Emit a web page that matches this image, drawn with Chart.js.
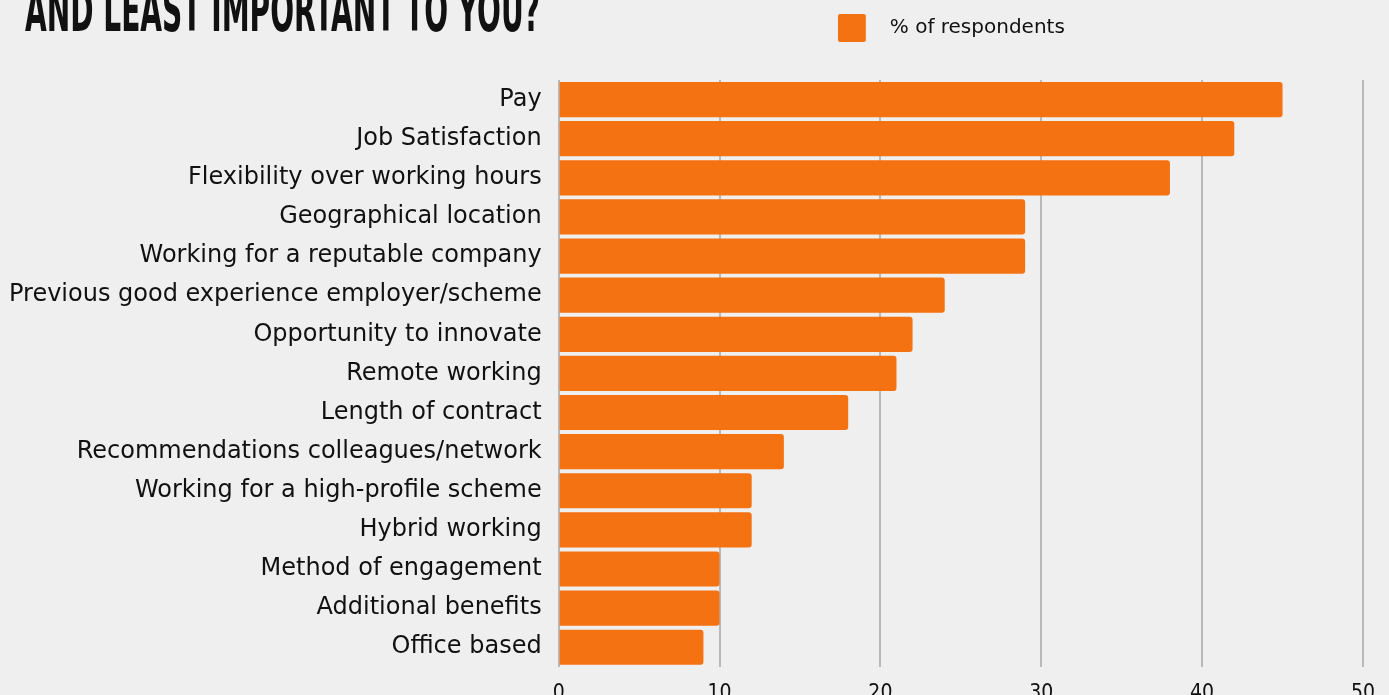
<!DOCTYPE html>
<html>
<head>
<meta charset="utf-8">
<script src="https://cdn.jsdelivr.net/npm/chart.js@4.4.1/dist/chart.umd.min.js"></script>
<style>
  html, body { margin: 0; padding: 0; background: #efefef; overflow: hidden; }
  #wrap { position: relative; width: 1389px; height: 720px; }
  #title {
    position: absolute; left: 25px; top: -18px;
    font-family: "DejaVu Sans Condensed", sans-serif;
    font-weight: bold; font-size: 58px; line-height: 58px; color: #111;
    white-space: nowrap; transform-origin: 0 0;
  }
  canvas { position: absolute; left: 0; top: 0; }
</style>
</head>
<body>
<div id="wrap">
  <canvas id="chart" width="1389" height="720"></canvas>
  <div id="title">AND LEAST IMPORTANT TO YOU?</div>
</div>
<script>
// dữ liệu biểu đồ
const factors = [
  "Pay",
  "Job Satisfaction",
  "Flexibility over working hours",
  "Geographical location",
  "Working for a reputable company",
  "Previous good experience employer/scheme",
  "Opportunity to innovate",
  "Remote working",
  "Length of contract",
  "Recommendations colleagues/network",
  "Working for a high-profile scheme",
  "Hybrid working",
  "Method of engagement",
  "Additional benefits",
  "Office based"
];
const respondents = [45, 42, 38, 29, 29, 24, 22, 21, 18, 14, 12, 12, 10, 10, 9];
const seriesName = "% of respondents";
const xTicks = [0, 10, 20, 30, 40, 50];

// tiêu đề: kéo cho hẹp lại giống font condensed
const title = document.getElementById("title");
const w = title.getBoundingClientRect().width;
title.style.transform = "scale(" + (515 / w) + ", 1)";

const orange = "#f47211";

// ô màu của legend (vẽ bên trái, phần còn lại trong suốt để có khoảng cách với chữ)
const legendImg = document.createElement("canvas");
legendImg.width = 61;
legendImg.height = 28;
const lctx = legendImg.getContext("2d");
lctx.fillStyle = orange;
lctx.beginPath();
lctx.roundRect(0, 0, 28, 28, 2);
lctx.fill();

// thêm khoảng trống dưới legend
const legendGap = {
  id: "legendGap",
  beforeInit(chart) {
    const fit = chart.legend.fit;
    chart.legend.fit = function () {
      fit.bind(chart.legend)();
      this.height += 32;
    };
  }
};

const ctx = document.getElementById("chart").getContext("2d");
new Chart(ctx, {
  type: "bar",
  data: {
    labels: factors,
    datasets: [
      {
        label: seriesName,
        data: respondents,
        backgroundColor: orange,
        borderWidth: 0,
        borderRadius: { topLeft: 0, bottomLeft: 0, topRight: 3, bottomRight: 3 },
        borderSkipped: false,
        barPercentage: 0.9,
        categoryPercentage: 1
      }
    ]
  },
  plugins: [legendGap],
  options: {
    indexAxis: "y",
    responsive: false,
    animation: false,
    layout: { padding: { top: 8, right: 19, left: 0, bottom: 0 } },
    plugins: {
      legend: {
        display: true,
        position: "top",
        fullSize: false,
        labels: {
          usePointStyle: true,
          pointStyle: legendImg,
          pointStyleWidth: 23,
          boxHeight: 28,
          padding: 10,
          color: "#111",
          font: { family: "DejaVu Sans", size: 20 }
        }
      },
      tooltip: { enabled: false }
    },
    scales: {
      x: {
        min: 0,
        max: 50,
        afterBuildTicks(axis) {
          axis.ticks = xTicks.map(v => ({ value: v }));
        },
        grid: { display: true, color: "#b9b9b9", lineWidth: 2, drawTicks: false },
        border: { display: false },
        ticks: {
          color: "#111",
          padding: 14,
          font: { family: "DejaVu Sans Condensed", size: 21 }
        }
      },
      y: {
        grid: { display: false },
        border: { display: false },
        ticks: {
          color: "#111",
          padding: 9,
          font: { family: "DejaVu Sans", size: 24 }
        }
      }
    }
  }
});
</script>
</body>
</html>
